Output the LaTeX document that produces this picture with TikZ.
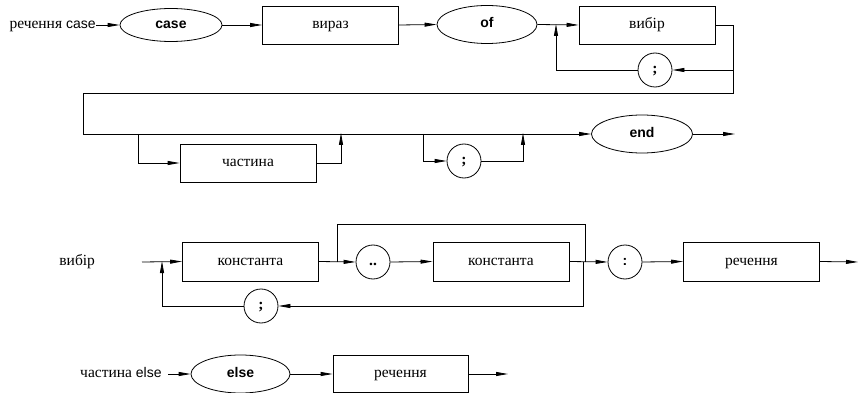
\documentclass[tikz,border=0pt]{standalone}
\usepackage{fontspec}
\setmainfont{Liberation Serif}
\setsansfont{Liberation Sans}
\usetikzlibrary{arrows.meta,shapes.geometric}
\begin{document}
\begin{tikzpicture}[x=1pt,y=-1pt,
  line width=0.8pt,
  every node/.style={font=\fontsize{15.5}{18}\selectfont, inner sep=0pt, text height=10pt, text depth=3pt},
  nonterm/.style={draw, rectangle, minimum width=136pt, minimum height=38pt},
  keyword/.style={draw, ellipse, minimum width=101pt, minimum height=38pt, font=\fontsize{14}{16}\selectfont\sffamily\bfseries},
  sym/.style={draw, circle, minimum size=34pt},
  flow/.style={-{Triangle[length=12pt,width=4pt]}},
  label/.style={anchor=east}
]
\useasboundingbox (0,0) rectangle (860,393);

% ---- statement case ----
\node[label] (lcase) at (96,25) {речення {\fontsize{14}{16}\selectfont\sffamily case}};
\node[keyword, minimum width=102pt, minimum height=33pt] (kcase) at (171,25) {case};
\node[nonterm] (expr) at (330.5,25) {вираз};
\node[keyword, minimum width=100pt] (kof) at (487,24.5) {of};
\node[nonterm] (choice) at (647,25) {вибір};
\node[sym] (semi1) at (655,70) {\bfseries ;};
\coordinate (rt) at (733,25);
\coordinate (rb) at (733,93);
\coordinate (lt) at (83,93);
\coordinate (lb) at (83,134);
\coordinate (loop1) at (556,25);

\node[nonterm] (part) at (248,163) {частина};
\node[sym] (semi2) at (464,161) {\bfseries ;};
\node[keyword] (kend) at (642,134) {end};
\coordinate (pa) at (138,134);
\coordinate (pb) at (341,134);
\coordinate (sa) at (423,134);
\coordinate (sb) at (523,134);
\coordinate (out1) at (735,134);

\draw[flow] (lcase.east) -- (kcase.west);
\draw[flow] (kcase.east) -- (expr.west);
\draw[flow] (expr.east) -- (kof.west);
\draw[flow] (kof.east) -- (choice.west);
\draw (choice.east) -- (rt) -- (rb) -- (lt) -- (lb);
\draw[flow] (rt |- semi1.east) -- (semi1.east);
\draw[flow] (semi1.west) -| ([yshift=1pt]loop1);
\draw[flow] (lb) -- (kend.west);
\draw[flow] (pa) |- (part.west);
\draw[flow] (part.east) -| ([yshift=1pt]pb);
\draw[flow] (sa) |- (semi2.west);
\draw[flow] (semi2.east) -| ([yshift=1pt]sb);
\draw[flow] (kend.east) -- (out1);

% ---- choice ----
\node[anchor=west] (lchoice) at (59,262) {вибір};
\coordinate (cin) at (142,262);
\coordinate (cloop) at (162,262);
\node[nonterm, minimum height=39pt] (const1) at (250.5,261.5) {константа};
\node[sym] (range) at (373,262) {\bfseries ..};
\node[nonterm, minimum height=39pt] (const2) at (501,261.5) {константа};
\node[sym] (colon) at (625,262) {\fontsize{14}{16}\selectfont\sffamily\bfseries :};
\node[nonterm, minimum height=39pt] (stmt1) at (751.5,261.5) {речення};
\node[sym] (semi3) at (261,306) {\bfseries ;};
\coordinate (bya) at (337,262);
\coordinate (byb) at (585,224);
\coordinate (byc) at (585,262);
\coordinate (ret) at (583,262);
\coordinate (out2) at (858,262);

\draw[flow] (cin) -- (const1.west);
\draw[flow] (const1.east) -- (range.west);
\draw[flow] (range.east) -- (const2.west);
\draw[flow] (const2.east) -- (colon.west);
\draw (bya) |- (byb) -- (byc);
\draw[flow] (ret) |- (semi3.east);
\draw[flow] (semi3.west) -| ([yshift=1pt]cloop);
\draw[flow] (colon.east) -- (stmt1.west);
\draw[flow] (stmt1.east) -- (out2);

% ---- else part ----
\node[label] (lelse) at (162,374) {частина {\fontsize{14}{16}\selectfont\sffamily else}};
\node[keyword, minimum width=99pt] (kelse) at (240.5,374) {else};
\node[nonterm, minimum width=135pt, minimum height=37pt] (stmt2) at (400.5,374) {речення};
\coordinate (ein) at (168,374);
\coordinate (out3) at (508,374);

\draw[flow] (ein) -- (kelse.west);
\draw[flow] (kelse.east) -- (stmt2.west);
\draw[flow] (stmt2.east) -- (out3);
\end{tikzpicture}
\end{document}
